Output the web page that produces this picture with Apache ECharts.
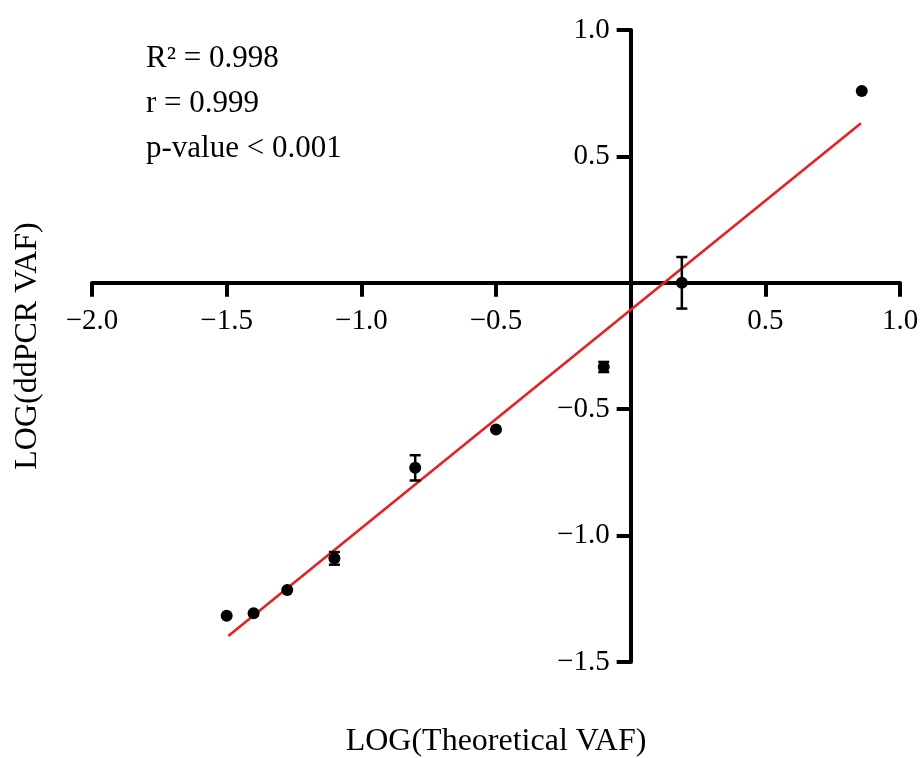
<!DOCTYPE html>
<html>
<head>
<meta charset="utf-8">
<script src="https://cdn.jsdelivr.net/npm/echarts@6/dist/echarts.min.js"></script>
<style>
  html, body { margin: 0; padding: 0; background: #fff; }
  #chart { width: 921px; height: 758px; }
</style>
</head>
<body>
<div id="chart"></div>
<script>
// valeurs
var logTheoretical = [-1.50, -1.40, -1.275, -1.10, -0.80, -0.50, -0.10, 0.19, 0.858];
var logDdpcr      = [-1.317, -1.307, -1.215, -1.09, -0.732, -0.58, -0.333, 0.0, 0.759];
var errDdpcr      = [0, 0, 0, 0.025, 0.05, 0, 0.02, 0.102, 0];

// droite de régression (extrémités)
var fitX = [-1.494, 0.855];
var fitY = [-1.397, 0.631];

// graduations affichées (le 0 n'est pas étiqueté)
var xTicks = [-2.0, -1.5, -1.0, -0.5, 0.5, 1.0];
var yTicks = [1.0, 0.5, -0.5, -1.0, -1.5];

var statsLines = ['R\u00b2 = 0.998', 'r = 0.999', 'p-value < 0.001'];
var xTitle = 'LOG(Theoretical VAF)';
var yTitle = 'LOG(ddPCR VAF)';

var serif = '"Liberation Serif", "DejaVu Serif", serif';

function fmtTick(v) {
    return v.toFixed(1).replace('-', '\u2212');
}

var points = logTheoretical.map(function(x, i) { return [x, logDdpcr[i]]; });
var bars = [];
logTheoretical.forEach(function(x, i) {
    if (errDdpcr[i] > 0) bars.push([x, logDdpcr[i], errDdpcr[i]]);
});
var fitLine = fitX.map(function(x, i) { return [x, fitY[i]]; });

var chart = echarts.init(document.getElementById('chart'));

var option = {
    backgroundColor: '#fff',
    animation: false,
    grid: { left: 92, right: 21, top: 30, bottom: 96 },
    xAxis: {
        type: 'value', min: -2, max: 1, interval: 0.5,
        axisLine: { onZero: true, lineStyle: { color: '#000', width: 4 } },
        axisTick: { show: true, length: 14, lineStyle: { color: '#000', width: 4 } },
        axisLabel: { show: false },
        splitLine: { show: false }
    },
    yAxis: {
        type: 'value', min: -1.5, max: 1, interval: 0.5,
        axisLine: { onZero: true, lineStyle: { color: '#000', width: 4 } },
        axisTick: { show: true, length: 14, lineStyle: { color: '#000', width: 4 } },
        axisLabel: { show: false },
        splitLine: { show: false }
    },
    graphic: [
        {
            type: 'text', x: 496, y: 742,
            style: { text: xTitle, fill: '#000', font: '32px ' + serif, align: 'center', verticalAlign: 'middle' }
        },
        {
            type: 'text', x: 28, y: 346, rotation: Math.PI / 2,
            style: { text: yTitle, fill: '#000', font: '32px ' + serif, align: 'center', verticalAlign: 'middle' }
        },
        {
            type: 'text', x: 146, y: 36,
            style: { text: statsLines.join('\n'), fill: '#000', font: '31px ' + serif, lineHeight: 45 }
        }
    ],
    series: [
        {
            // étiquettes de l'axe X, posées sous la ligne y = 0
            type: 'scatter',
            data: xTicks.map(function(v) { return [v, 0]; }),
            symbolSize: 0,
            silent: true,
            itemStyle: { opacity: 1 },
            label: {
                show: true, position: 'bottom', distance: 24,
                formatter: function(p) { return fmtTick(p.value[0]); },
                color: '#000', opacity: 1, fontFamily: serif, fontSize: 29
            },
            z: 1
        },
        {
            // étiquettes de l'axe Y, à gauche de la ligne x = 0
            type: 'scatter',
            data: yTicks.map(function(v) { return [0, v]; }),
            symbolSize: 0,
            silent: true,
            itemStyle: { opacity: 1 },
            label: {
                show: true, position: 'left', distance: 21,
                formatter: function(p) { return fmtTick(p.value[1]); },
                color: '#000', opacity: 1, fontFamily: serif, fontSize: 29
            },
            z: 1
        },
        {
            type: 'line',
            data: fitLine,
            symbol: 'none',
            lineStyle: { color: '#ee1c1c', width: 2.5 },
            z: 2
        },
        {
            type: 'custom',
            data: bars,
            z: 3,
            renderItem: function(params, api) {
                var x = api.value(0), y = api.value(1), e = api.value(2);
                var hi = api.coord([x, y + e]);
                var lo = api.coord([x, y - e]);
                var w = 5.5;
                var st = { stroke: '#000', lineWidth: 2.5 };
                return {
                    type: 'group',
                    children: [
                        { type: 'line', shape: { x1: hi[0], y1: hi[1], x2: lo[0], y2: lo[1] }, style: st },
                        { type: 'line', shape: { x1: hi[0] - w, y1: hi[1], x2: hi[0] + w, y2: hi[1] }, style: st },
                        { type: 'line', shape: { x1: lo[0] - w, y1: lo[1], x2: lo[0] + w, y2: lo[1] }, style: st }
                    ]
                };
            }
        },
        {
            type: 'scatter',
            data: points,
            symbol: 'circle',
            symbolSize: 12,
            itemStyle: { color: '#000', opacity: 1 },
            z: 4
        }
    ]
};

chart.setOption(option);
</script>
</body>
</html>
